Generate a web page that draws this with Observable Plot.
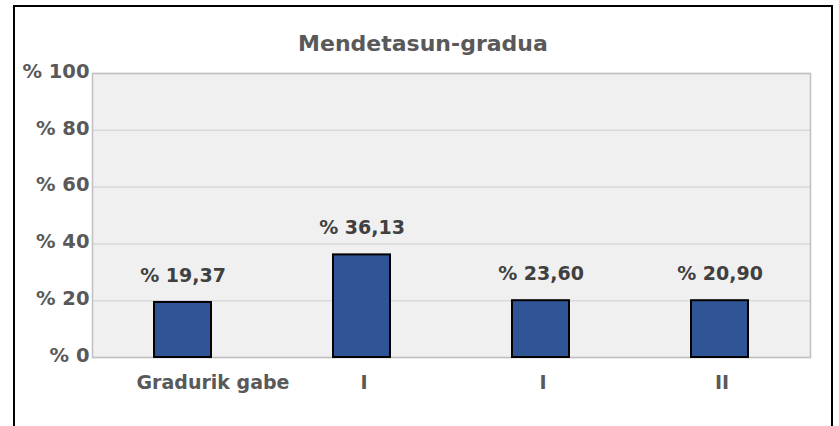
<!DOCTYPE html>
<html>
<head>
<meta charset="utf-8">
<script src="https://cdn.jsdelivr.net/npm/d3@7"></script>
<script src="https://cdn.jsdelivr.net/npm/@observablehq/plot@0.6"></script>
<style>
  html, body { margin: 0; padding: 0; background: #fff; }
  #wrap { position: relative; width: 839px; height: 426px; overflow: hidden; font-family: "DejaVu Sans", sans-serif; }
  #border { position: absolute; left: 13px; top: 5px; width: 820px; height: 460px; border: 2px solid #000; box-sizing: border-box; }
  #title { position: absolute; left: 0; top: 32px; width: 846px; line-height: 24px; text-align: center; font-size: 22px; font-weight: bold; color: #595959; }
  #chart { position: absolute; left: 0; top: 0; }
</style>
</head>
<body>
<div id="wrap">
  <div id="border"></div>
  <div id="chart"></div>
  <div id="title">Mendetasun-gradua</div>
</div>
<script>
const title = "Mendetasun-gradua";
const categories = ["Gradurik gabe", "I", "I", "II"];
// bar heights as drawn in the picture
const barValues = [19.37, 36.13, 20.0, 20.0];
// values printed above bars
const labelValues = [19.37, 36.13, 23.60, 20.90];
const yTicks = [0, 20, 40, 60, 80, 100];

const data = categories.map((c, i) => ({
  i, cat: c, v: barValues[i],
  label: "% " + labelValues[i].toFixed(2).replace(".", ",")
}));

const xAxisOpts = { tickFormat: i => categories[i], tickSize: 0, tickPadding: 18, label: null, fontSize: 19, fontWeight: "bold" };

const chart = Plot.plot({
  width: 839,
  height: 426,
  marginLeft: 92,
  marginRight: 29,
  marginTop: 73,
  marginBottom: 69,
  style: { fontFamily: "'DejaVu Sans', sans-serif", fontWeight: "bold", fontSize: "19.5px", color: "#595959", background: "transparent" },
  x: { domain: [0, 1, 2, 3], paddingInner: 0.68, paddingOuter: 0.34 },
  y: { domain: [0, 100] },
  marks: [
    Plot.frame({ fill: "#f0f0f0", stroke: null }),
    Plot.gridY(yTicks, { stroke: "#d9d9d9", strokeOpacity: 1, strokeWidth: 1.5 }),
    Plot.frame({ stroke: "#c0c0c0", strokeWidth: 1.5 }),
    Plot.axisY({ ticks: yTicks, tickFormat: d => "% " + d, tickSize: 0, tickPadding: 3, dy: -2, label: null, fontSize: 19.5, fontWeight: "bold" }),
    Plot.axisX([0], { ...xAxisOpts, dx: 30 }),
    Plot.axisX([1, 2, 3], { ...xAxisOpts, dx: 2 }),
    Plot.barY(data, { x: "i", y: "v", fill: "#2f5597", stroke: "#000", strokeWidth: 2 }),
    Plot.text(data, { x: "i", y: "v", text: "label", dy: -27, fill: "#404040", fontSize: 19, fontWeight: "bold" })
  ]
});
document.getElementById("chart").appendChild(chart);
</script>
</body>
</html>
